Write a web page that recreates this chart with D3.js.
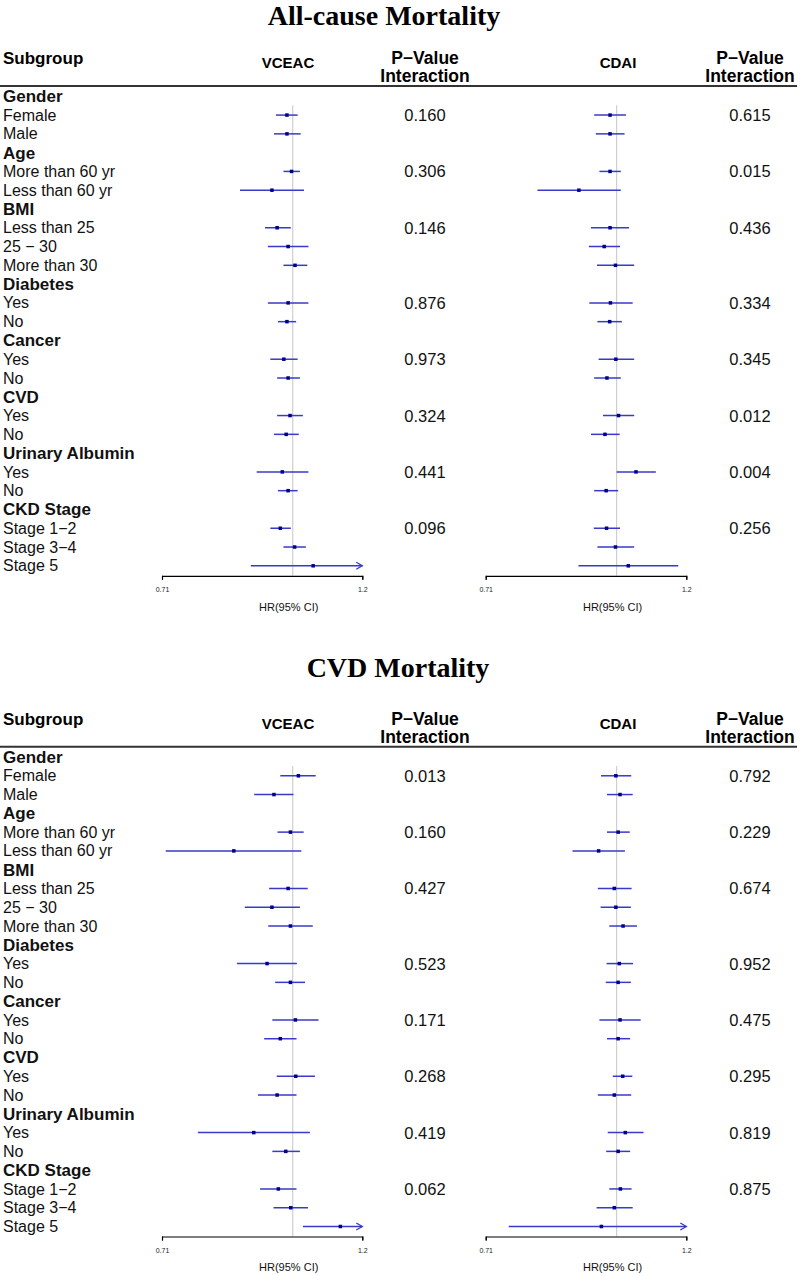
<!DOCTYPE html>
<html><head><meta charset="utf-8">
<script src="https://cdn.jsdelivr.net/npm/d3@7"></script>
<style>body{margin:0;background:#fff}</style>
</head><body><svg id="c" width="800" height="1276"></svg>
<script>
// ---------- DATA ----------
const panelTitles = ["All-cause Mortality", "CVD Mortality"];
const exposures = ["VCEAC", "CDAI"];
const subgroupHeader = "Subgroup";
const pHeaderLines = ["P\u2212Value", "Interaction"];
const xAxisLabel = "HR(95% CI)";
const tickValues = [0.71, 1.2];
const tickLabels = ["0.71", "1.2"];
const groupNames = ["Gender", "Age", "BMI", "Diabetes", "Cancer", "CVD", "Urinary Albumin", "CKD Stage"];
const subgroupNames = [
  ["Female", "Male"],
  ["More than 60 yr", "Less than 60 yr"],
  ["Less than 25", "25 \u2212 30", "More than 30"],
  ["Yes", "No"],
  ["Yes", "No"],
  ["Yes", "No"],
  ["Yes", "No"],
  ["Stage 1\u22122", "Stage 3\u22124", "Stage 5"]
];
// All-cause mortality, VCEAC
const acVceacHR = [0.985,0.985, 0.997,0.947, 0.960,0.988,1.006, 0.988,0.985, 0.977,0.988, 0.993,0.983, 0.973,0.988, 0.968,1.005,1.055];
const acVceacLo = [0.957,0.952, 0.976,0.871, 0.930,0.937,0.976, 0.937,0.962, 0.943,0.960, 0.960,0.952, 0.910,0.962, 0.943,0.976,0.896];
const acVceacHi = [1.013,1.021, 1.019,1.030, 0.995,1.042,1.039, 1.042,1.009, 1.013,1.019, 1.027,1.016, 1.042,1.013, 0.995,1.035,1.250];
const acVceacP  = ["0.160","0.306","0.146","0.876","0.973","0.324","0.441","0.096"];
// All-cause mortality, CDAI
const acCdaiHR = [0.983,0.983, 0.983,0.906, 0.983,0.968,0.997, 0.984,0.982, 0.998,0.975, 1.005,0.970, 1.052,0.973, 0.974,0.997,1.031];
const acCdaiLo = [0.943,0.947, 0.956,0.813, 0.935,0.930,0.950, 0.931,0.951, 0.954,0.943, 0.965,0.935, 1.000,0.943, 0.942,0.951,0.905];
const acCdaiHi = [1.025,1.021, 1.011,1.011, 1.033,1.009,1.047, 1.043,1.014, 1.047,1.011, 1.047,1.008, 1.108,1.004, 1.009,1.047,1.175];
const acCdaiP  = ["0.615","0.015","0.436","0.334","0.345","0.012","0.004","0.256"];
// CVD mortality, VCEAC
const cvdVceacHR = [1.015,0.952, 0.994,0.857, 0.988,0.947,0.994, 0.935,0.994, 1.007,0.968, 1.008,0.960, 0.903,0.982, 0.963,0.995,1.133];
const cvdVceacLo = [0.968,0.904, 0.961,0.717, 0.940,0.882,0.938, 0.864,0.955, 0.948,0.928, 0.959,0.913, 0.780,0.948, 0.918,0.951,1.027];
const cvdVceacHi = [1.062,1.002, 1.029,1.023, 1.040,1.019,1.054, 1.011,1.033, 1.070,1.010, 1.060,1.010, 1.046,1.019, 1.010,1.041,1.250];
const cvdVceacP  = ["0.013","0.160","0.427","0.523","0.171","0.268","0.419","0.062"];
// CVD mortality, CDAI
const cvdCdaiHR = [0.998,1.009, 1.004,0.954, 0.994,0.998,1.017, 1.007,1.004, 1.009,1.004, 1.016,0.994, 1.023,1.004, 1.010,0.994,0.961];
const cvdCdaiLo = [0.960,0.975, 0.975,0.891, 0.952,0.959,0.981, 0.974,0.972, 0.956,0.975, 0.990,0.952, 0.977,0.973, 0.981,0.949,0.754];
const cvdCdaiHi = [1.039,1.043, 1.035,1.022, 1.040,1.038,1.055, 1.044,1.038, 1.065,1.036, 1.042,1.039, 1.073,1.036, 1.040,1.043,1.250];
const cvdCdaiP  = ["0.792","0.229","0.674","0.952","0.475","0.295","0.819","0.875"];

// ---------- LAYOUT ----------
const panels = [
  { title: panelTitles[0], off: 0, titleX: 384, titleY: 25,
    series: [[acVceacHR, acVceacLo, acVceacHi, acVceacP], [acCdaiHR, acCdaiLo, acCdaiHi, acCdaiP]] },
  { title: panelTitles[1], off: 660.7, titleX: 398, titleY: 16,
    series: [[cvdVceacHR, cvdVceacLo, cvdVceacHi, cvdVceacP], [cvdCdaiHR, cvdCdaiLo, cvdCdaiHi, cvdCdaiP]] }
];
const plotRanges = [[162, 362.3], [485.7, 686.3]];
const headX = [288, 618];
const pX = [425, 750];
const row0 = 96.3, rowH = 18.78;
const sans = "'Liberation Sans', Arial, Helvetica, sans-serif";
const serif = "'Liberation Serif', 'Times New Roman', serif";
const lineCol = "#3a3ac8", ptCol = "#00008b";

const svg = d3.select("#c");

// flat rows
const rows = [];
groupNames.forEach((g, gi) => {
  rows.push({ label: g, header: true, gi });
  subgroupNames[gi].forEach((s, si) => rows.push({ label: s, header: false, gi, si }));
});
let k = 0;
rows.forEach((r, i) => { r.i = i; if (!r.header) r.k = k++; });

panels.forEach(p => {
  const g = svg.append("g").attr("transform", `translate(0,${p.off})`);
  const yOf = i => row0 + i * rowH;
  const lastY = yOf(rows.length - 1);
  const axisY = lastY + 10;

  g.append("text").attr("x", p.titleX).attr("y", p.titleY).attr("text-anchor", "middle")
    .attr("font-family", serif).attr("font-weight", "bold").attr("font-size", 28).text(p.title);

  g.append("text").attr("x", 3).attr("y", 64).attr("font-family", sans).attr("font-weight", "bold")
    .attr("font-size", 17).text(subgroupHeader);
  exposures.forEach((e, ei) => {
    g.append("text").attr("x", headX[ei]).attr("y", 68).attr("text-anchor", "middle")
      .attr("font-family", sans).attr("font-weight", "bold").attr("font-size", 15).text(e);
    pHeaderLines.forEach((t, ti) => {
      g.append("text").attr("x", pX[ei]).attr("y", 64 + ti * 18).attr("text-anchor", "middle")
        .attr("font-family", sans).attr("font-weight", "bold").attr("font-size", 17.5).text(t);
    });
  });
  g.append("line").attr("x1", 0).attr("x2", 797).attr("y1", 86).attr("y2", 86)
    .attr("stroke", "#333").attr("stroke-width", 2);

  // row labels
  g.selectAll("text.lab").data(rows).enter().append("text").attr("class", "lab")
    .attr("x", 3).attr("y", d => yOf(d.i) + (d.header ? 6 : 5.6))
    .attr("font-family", sans).attr("font-weight", d => d.header ? "bold" : "normal")
    .attr("font-size", d => d.header ? 17 : 16).attr("fill", "#111").text(d => d.label);

  const subRows = rows.filter(r => !r.header);

  p.series.forEach((s, ei) => {
    const [hr, lo, hi, pv] = s;
    const x = d3.scaleLog().domain([tickValues[0], tickValues[1]]).range(plotRanges[ei]);
    const xc = x.copy().clamp(true);

    // reference line at HR = 1
    g.append("line").attr("x1", x(1)).attr("x2", x(1)).attr("y1", yOf(0) + 9).attr("y2", axisY)
      .attr("stroke", "#cfcfcf").attr("stroke-width", 1.2);

    // CIs
    g.selectAll(null).data(subRows).enter().append("line")
      .attr("x1", d => xc(lo[d.k])).attr("x2", d => xc(hi[d.k]))
      .attr("y1", d => yOf(d.i)).attr("y2", d => yOf(d.i))
      .attr("stroke", lineCol).attr("stroke-width", 1.5);
    // arrows for clipped CIs
    subRows.filter(d => hi[d.k] > tickValues[1]).forEach(d => {
      const ax = x(tickValues[1]), ay = yOf(d.i);
      g.append("path").attr("d", `M${ax - 6},${ay - 3.5}L${ax},${ay}L${ax - 6},${ay + 3.5}`)
        .attr("fill", "none").attr("stroke", lineCol).attr("stroke-width", 1.3);
    });
    subRows.filter(d => lo[d.k] < tickValues[0]).forEach(d => {
      const ax = x(tickValues[0]), ay = yOf(d.i);
      g.append("path").attr("d", `M${ax + 6},${ay - 3.5}L${ax},${ay}L${ax + 6},${ay + 3.5}`)
        .attr("fill", "none").attr("stroke", lineCol).attr("stroke-width", 1.3);
    });
    // points
    g.selectAll(null).data(subRows).enter().append("rect")
      .attr("x", d => x(hr[d.k]) - 1.75).attr("y", d => yOf(d.i) - 1.75)
      .attr("width", 3.5).attr("height", 3.5).attr("fill", ptCol);

    // p-values on the first subgroup row of each group
    g.selectAll(null).data(rows.filter(r => !r.header && r.si === 0)).enter().append("text")
      .attr("x", pX[ei]).attr("y", d => yOf(d.i) + 6).attr("text-anchor", "middle")
      .attr("font-family", sans).attr("font-size", 16.5).attr("fill", "#111")
      .text(d => pv[d.gi]);

    // axis
    const ax = g.append("g").attr("transform", `translate(0,${axisY})`)
      .call(d3.axisBottom(x).tickValues(tickValues).tickFormat((d, i) => tickLabels[i])
        .tickSize(4).tickSizeOuter(4));
    ax.select(".domain").attr("stroke", "#000").attr("stroke-width", 1.2);
    ax.selectAll(".tick line").attr("stroke", "#000");
    ax.selectAll(".tick text").attr("font-family", sans).attr("font-size", 7).attr("fill", "#222")
      .attr("y", 14).attr("dy", "0.32em");
    g.append("text").attr("x", x(1) - 4).attr("y", axisY + 35).attr("text-anchor", "middle")
      .attr("font-family", sans).attr("font-size", 11).attr("fill", "#111").text(xAxisLabel);
  });
});
</script></body></html>
